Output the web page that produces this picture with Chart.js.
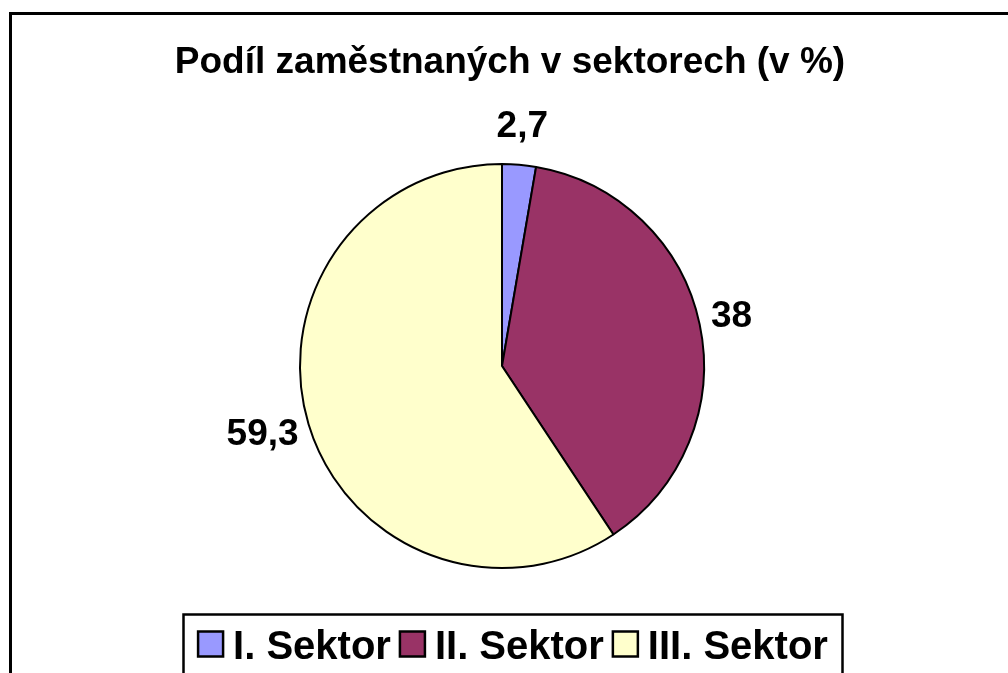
<!DOCTYPE html>
<html lang="cs">
<head>
	<meta charset="utf-8">
	<title>Podíl zaměstnaných v sektorech</title>
	<script src="https://cdn.jsdelivr.net/npm/chart.js@4.4.1/dist/chart.umd.min.js"></script>
	<style>
		html, body { margin: 0; padding: 0; background: #fff; }
		#wrap { width: 1008px; height: 673px; position: relative; }
	</style>
</head>
<body>
	<div id="wrap"><canvas id="pieChart"></canvas></div>
	<script>
		const chartTitle = 'Podíl zaměstnaných v sektorech (v %)';
		const sectors = ['I. Sektor', 'II. Sektor', 'III. Sektor'];
		const shares = [2.7, 38, 59.3];
		const sectorColors = ['#9999FF', '#993366', '#FFFFCC'];

		const FONT = '"Liberation Sans", Arial, sans-serif';

		// rámeček, nadpis, popisky a legenda ve stylu Excelu
		const excelLook = {
			id: 'excelLook',
			beforeDraw(chart) {
				const ctx = chart.ctx;
				ctx.save();
				ctx.fillStyle = '#fff';
				ctx.fillRect(0, 0, chart.width, chart.height);
				ctx.restore();
			},
			afterDraw(chart) {
				const ctx = chart.ctx;
				ctx.save();

				// vnější rámeček (pravá a dolní strana jsou mimo obrázek)
				ctx.strokeStyle = '#000';
				ctx.lineWidth = 3;
				ctx.strokeRect(10.5, 13.5, chart.width + 20, chart.height + 20);

				// nadpis
				ctx.fillStyle = '#000';
				ctx.font = 'bold 37px ' + FONT;
				ctx.textAlign = 'center';
				ctx.textBaseline = 'alphabetic';
				ctx.fillText(chartTitle, 510, 73);

				// hodnoty u výsečí - vně okraje, jako "best fit" v Excelu
				ctx.font = 'bold 37px ' + FONT;
				ctx.textBaseline = 'middle';
				const meta = chart.getDatasetMeta(0);
				meta.data.forEach((arc, i) => {
					const p = arc.getProps(['x', 'y', 'startAngle', 'endAngle', 'outerRadius'], true);
					const txt = String(shares[i]).replace('.', ',');
					const w = ctx.measureText(txt).width;
					const mid = (p.startAngle + p.endAngle) / 2;
					const r = p.outerRadius + 12;
					const lx = p.x + Math.cos(mid) * r + Math.cos(mid) * w / 2;
					const ly = p.y + Math.sin(mid) * r + Math.sin(mid) * 26;
					ctx.fillText(txt, lx, ly);
				});

				// legenda
				const boxL = 183.5, boxT = 614.5, boxR = 842.5;
				ctx.lineWidth = 2.5;
				ctx.strokeRect(boxL, boxT, boxR - boxL, chart.height + 20 - boxT);

				ctx.font = 'bold 40px ' + FONT;
				ctx.textAlign = 'left';
				ctx.textBaseline = 'alphabetic';
				const sw = 25, swGap = 10, itemGap = 9;
				const widths = sectors.map(s => ctx.measureText(s).width);
				let total = widths.reduce((a, b) => a + b, 0) + sectors.length * (sw + swGap) + (sectors.length - 1) * itemGap;
				let x = (boxL + boxR) / 2 - total / 2;
				sectors.forEach((s, i) => {
					ctx.fillStyle = sectorColors[i];
					ctx.fillRect(x, 631.5, sw, sw);
					ctx.lineWidth = 2.5;
					ctx.strokeStyle = '#000';
					ctx.strokeRect(x, 631.5, sw, sw);
					ctx.fillStyle = '#000';
					ctx.fillText(s, x + sw + swGap, 659);
					x += sw + swGap + widths[i] + itemGap;
				});

				ctx.restore();
			}
		};

		new Chart(document.getElementById('pieChart'), {
			type: 'pie',
			data: {
				labels: sectors,
				datasets: [{
					data: shares,
					backgroundColor: sectorColors,
					borderColor: '#000',
					borderWidth: 2
				}]
			},
			options: {
				responsive: true,
				maintainAspectRatio: false,
				devicePixelRatio: 1,
				animation: false,
				events: [],
				radius: 202,
				layout: { padding: { left: 250, right: 254, top: 116, bottom: 57 } },
				plugins: {
					legend: { display: false },
					title: { display: false },
					tooltip: { enabled: false }
				}
			},
			plugins: [excelLook]
		});
	</script>
</body>
</html>
